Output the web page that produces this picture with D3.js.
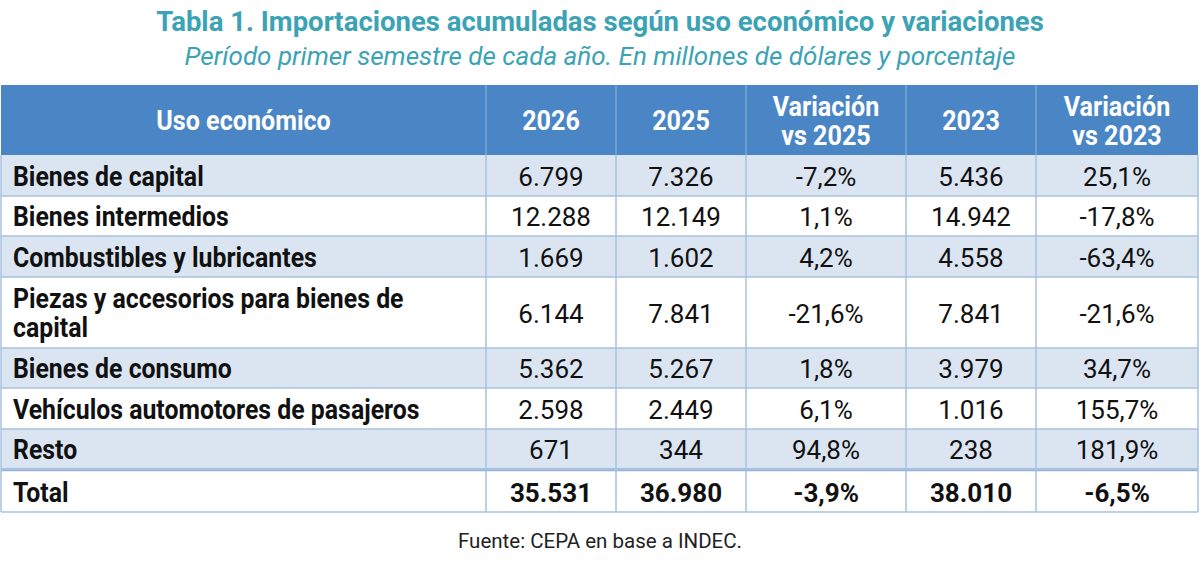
<!DOCTYPE html>
<html><head><meta charset="utf-8">
<script src="https://cdn.jsdelivr.net/npm/d3@7"></script>
<style>body{margin:0;background:#fff}svg{display:block}text{font-family:Roboto,"Noto Sans",sans-serif}</style>
</head><body>
<svg id="c" width="1200" height="561"></svg>
<script>
const title = "Tabla 1. Importaciones acumuladas según uso económico y variaciones";
const subtitle = "Período primer semestre de cada año. En millones de dólares y porcentaje";
const source = "Fuente: CEPA en base a INDEC.";
const headers = ["Uso económico", "2026", "2025", "Variación\nvs 2025", "2023", "Variación\nvs 2023"];
const categories = ["Bienes de capital", "Bienes intermedios", "Combustibles y lubricantes",
  "Piezas y accesorios para bienes de\ncapital", "Bienes de consumo",
  "Vehículos automotores de pasajeros", "Resto"];
const v2026 = [6799, 12288, 1669, 6144, 5362, 2598, 671];
const v2025 = [7326, 12149, 1602, 7841, 5267, 2449, 344];
const var2025 = [-7.2, 1.1, 4.2, -21.6, 1.8, 6.1, 94.8];
const v2023 = [5436, 14942, 4558, 7841, 3979, 1016, 238];
const var2023 = [25.1, -17.8, -63.4, -21.6, 34.7, 155.7, 181.9];
const totalLabel = "Total";
const totals = [35531, 36980, -3.9, 38010, -6.5];

const loc = d3.formatLocale({decimal: ",", thousands: ".", grouping: [3], currency: ["$", ""], minus: "-"});
const fNum = loc.format(",.0f");
const fPct = v => loc.format(".1f")(v) + "%";

const svg = d3.select("#c");
const colEdges = [1, 486, 616, 746, 906, 1036, 1198];
const headerTop = 85, headerBottom = 155;
const rowHeights = [41, 40, 41, 71, 40, 41, 40];
const totalTop = 472, totalBottom = 512;
const rowTops = [];
rowHeights.reduce((acc, h) => { rowTops.push(acc); return acc + h; }, headerBottom);
const bodyBottom = headerBottom + d3.sum(rowHeights);

function ctext(g, x, y, str, opts) {
  const anchor = opts.anchor || "middle";
  const gg = g.append("g").attr("transform", `translate(${x},${y}) scale(${opts.sx || 1},1)`);
  const lines = str.split("\n");
  const lh = opts.lh || 0;
  const off = -(lines.length - 1) * lh / 2;
  lines.forEach((l, i) => {
    gg.append("text").attr("x", 0).attr("y", off + i * lh)
      .attr("dy", "0.35em")
      .attr("text-anchor", anchor)
      .attr("font-size", opts.size)
      .attr("font-weight", opts.weight || 400)
      .attr("font-style", opts.style || "normal")
      .attr("fill", opts.fill || "#111")
      .text(l);
  });
  return gg;
}

// Title
ctext(svg, 600, 21, title, {size: 28.5, weight: 700, fill: "#3ba3b5", sx: 0.965});
ctext(svg, 600, 56, subtitle, {size: 26, style: "italic", fill: "#3ba3b5"});

// Header
svg.append("rect").attr("x", colEdges[0]).attr("y", headerTop)
  .attr("width", colEdges[6] - colEdges[0]).attr("height", headerBottom - headerTop)
  .attr("fill", "#4a86c6");

// Body rows
const rows = categories.map((c, i) => ({
  label: c, vals: [fNum(v2026[i]), fNum(v2025[i]), fPct(var2025[i]), fNum(v2023[i]), fPct(var2023[i])]
}));
rows.forEach((r, i) => {
  svg.append("rect").attr("x", colEdges[0]).attr("y", rowTops[i])
    .attr("width", colEdges[6] - colEdges[0]).attr("height", rowHeights[i])
    .attr("fill", i % 2 === 0 ? "#dbe5f1" : "#ffffff");
});
svg.append("rect").attr("x", colEdges[0]).attr("y", totalTop)
  .attr("width", colEdges[6] - colEdges[0]).attr("height", totalBottom - totalTop)
  .attr("fill", "#ffffff");

// grid lines
const lineC = "#a8c1de";
const hl = (y, w, c) => svg.append("line").attr("x1", colEdges[0]).attr("x2", colEdges[6])
  .attr("y1", y).attr("y2", y).attr("stroke", c || lineC).attr("stroke-width", w || 1.5);
rowTops.forEach((y, i) => { if (i > 0) hl(y); });
hl(bodyBottom, 1.5, "#95b3d7");
hl(totalTop - 1.5, 1.5, "#95b3d7");
hl(totalBottom);
colEdges.forEach((x, i) => {
  svg.append("line").attr("x1", x).attr("x2", x).attr("y1", headerBottom).attr("y2", totalBottom)
    .attr("stroke", lineC).attr("stroke-width", 1.5);
  if (i > 0 && i < 6)
    svg.append("line").attr("x1", x).attr("x2", x).attr("y1", headerTop).attr("y2", headerBottom)
      .attr("stroke", "#7aa6d6").attr("stroke-width", 1.5);
});

// header text
headers.forEach((h, j) => {
  const cx = (colEdges[j] + colEdges[j + 1]) / 2;
  ctext(svg, cx, (headerTop + headerBottom) / 2 + 1, h, {size: 27, weight: 700, fill: "#ffffff", lh: 29, sx: 0.93});
});

// body text
rows.forEach((r, i) => {
  const cy = rowTops[i] + rowHeights[i] / 2 + 1;
  ctext(svg, 13, cy, r.label, {size: 27, weight: 700, anchor: "start", lh: 29, sx: 0.92});
  r.vals.forEach((v, j) => {
    const cx = (colEdges[j + 1] + colEdges[j + 2]) / 2;
    ctext(svg, cx, cy, v, {size: 26});
  });
});
// total
const tcy = (totalTop + totalBottom) / 2 + 1;
ctext(svg, 13, tcy, totalLabel, {size: 27, weight: 700, anchor: "start", sx: 0.92});
totals.forEach((v, j) => {
  const cx = (colEdges[j + 1] + colEdges[j + 2]) / 2;
  ctext(svg, cx, tcy, (j === 2 || j === 4) ? fPct(v) : fNum(v), {size: 26, weight: 700});
});

// source
ctext(svg, 600, 541, source, {size: 20.5, fill: "#222"});
</script>
</body></html>
